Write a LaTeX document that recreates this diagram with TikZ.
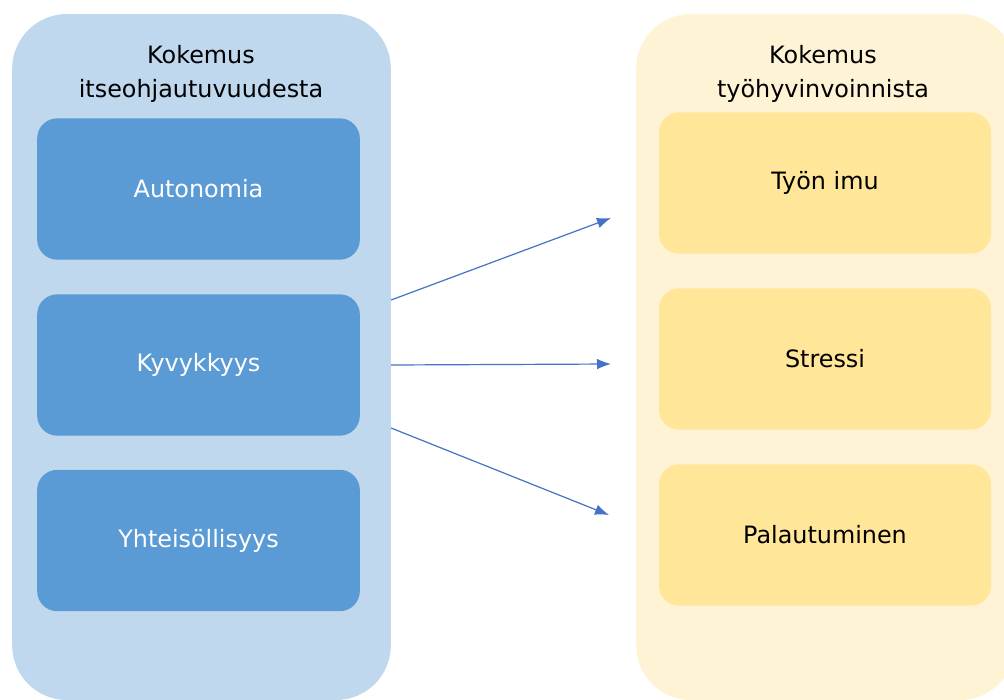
\documentclass[tikz,border=0pt]{standalone}
\usepackage{fontspec}
\setmainfont{DejaVu Sans}
\usetikzlibrary{arrows.meta}

\definecolor{sinitausta}{HTML}{C0D8EE}
\definecolor{sininen}{HTML}{5B9BD5}
\definecolor{keltatausta}{HTML}{FFF3D6}
\definecolor{keltainen}{HTML}{FFE699}
\definecolor{nuolensini}{HTML}{4472C4}

\begin{document}
\begin{tikzpicture}
		[
		x=0.75pt, y=-0.75pt, font=\fontsize{17.9}{25}\selectfont,
		ulko/.style={rounded corners=41pt, minimum width=284pt, minimum height=514.5pt, inner sep=0pt},
		sisa/.style={rounded corners=15pt, minimum height=106pt, inner sep=0pt},
		otsikko/.style={align=center, inner sep=0pt},
		nuoli/.style={-{Latex[length=10.5pt,width=8pt]}, nuolensini, line width=0.9pt}
		%tyylit kuvan asetuksissa
		]
		
		%Kuvan rajat
		\useasboundingbox (0,0) rectangle (1004,700);
		\clip (0,0) rectangle (1004,700);
		
		%Vasen tausta
		\node[ulko, fill=sinitausta] (vasen) at (201.5,357) {};
		\node[otsikko] (votsikko) at (201,74) {Kokemus\\itseohjautuvuudesta};
		
		%Oikea tausta
		\node[ulko, fill=keltatausta] (oikea) at (825.5,357) {};
		\node[otsikko] (ootsikko) at (823,74) {Kokemus\\työhyvinvoinnista};
		
		%Siniset laatikot
		\node[sisa, minimum width=242pt, fill=sininen, text=white] (autonomia) at (198.5,189) {Autonomia};
		\node[sisa, minimum width=242pt, fill=sininen, text=white] (kyvykkyys) at (198.5,365) {Kyvykkyys};
		\node[sisa, minimum width=242pt, fill=sininen, text=white] (yhteisollisyys) at (198.5,540.5) {Yhteisöllisyys};
		
		%Keltaiset laatikot
		\node[sisa, minimum width=249pt, fill=keltainen] (imu) at (825,183) {Työn imu};
		\node[sisa, minimum width=249pt, fill=keltainen] (stressi) at (825,359) {Stressi};
		\node[sisa, minimum width=249pt, fill=keltainen] (palautuminen) at (825,535) {Palautuminen};
		
		%Nuolet
		\coordinate (k1) at (611,218);
		\coordinate (k2) at (611,364);
		\coordinate (k3) at (609,515);
		\draw[nuoli] (vasen.east |- 0,300) -- (k1);
		\draw[nuoli] (vasen.east |- 0,365) -- (k2);
		\draw[nuoli] (vasen.east |- 0,428) -- (k3);
	\end{tikzpicture}
\end{document}
